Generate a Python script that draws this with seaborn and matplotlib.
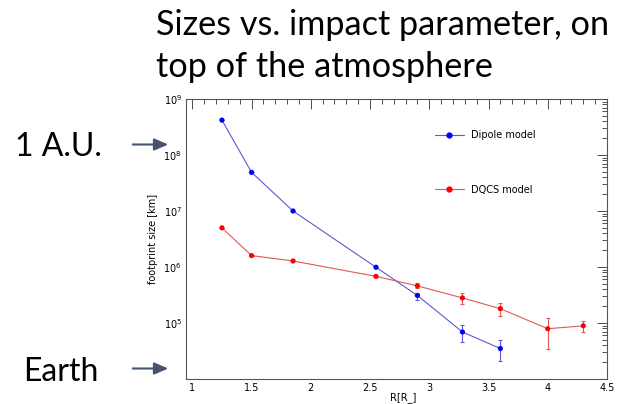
import numpy as np
import pandas as pd
import seaborn as sns
import matplotlib
matplotlib.use("Agg")
import matplotlib.pyplot as plt
from matplotlib.ticker import LogLocator, MultipleLocator, NullFormatter, FuncFormatter
from matplotlib.lines import Line2D

# ---- data ----
dipole_r = [1.25, 1.5, 1.85, 2.55, 2.9, 3.28, 3.6]
dipole_size = [4.2e8, 4.9e7, 1.0e7, 9.9e5, 3.1e5, 6.9e4, 3.5e4]
dipole_lo = [4.2e8, 4.9e7, 1.0e7, 9.9e5, 2.6e5, 4.5e4, 2.1e4]
dipole_hi = [4.2e8, 4.9e7, 1.0e7, 9.9e5, 3.5e5, 9.1e4, 4.9e4]

dqcs_r = [1.25, 1.5, 1.85, 2.55, 2.9, 3.28, 3.6, 4.0, 4.3]
dqcs_size = [5.0e6, 1.6e6, 1.28e6, 6.8e5, 4.6e5, 2.8e5, 1.8e5, 7.9e4, 8.9e4]
dqcs_lo = [5.0e6, 1.6e6, 1.28e6, 6.8e5, 4.2e5, 2.2e5, 1.35e5, 3.5e4, 7.0e4]
dqcs_hi = [5.0e6, 1.6e6, 1.28e6, 6.8e5, 5.1e5, 3.4e5, 2.3e5, 1.25e5, 1.07e5]

series_labels = ["Dipole model", "DQCS model"]
x_ticks = [1, 1.5, 2, 2.5, 3, 3.5, 4, 4.5]

sns.set_style("white")
plt.rcParams['font.family'] = ['DejaVu Sans']
plt.rcParams['text.color'] = 'black'
plt.rcParams['axes.labelcolor'] = 'black'
plt.rcParams['xtick.color'] = 'black'
plt.rcParams['ytick.color'] = 'black'

fig = plt.figure(figsize=(6.17, 4.04), dpi=100)
ax = fig.add_axes([0.3015, 0.0619, 0.6823, 0.6931])

df_d = pd.DataFrame({"r": dipole_r, "size": dipole_size})
df_q = pd.DataFrame({"r": dqcs_r, "size": dqcs_size})

line_blue, mark_blue = "#5a5ad8", "#0000ff"
line_red, mark_red = "#e05858", "#ff0000"

sns.lineplot(data=df_d, x="r", y="size", ax=ax, color=line_blue, lw=0.8, sort=False)
sns.lineplot(data=df_q, x="r", y="size", ax=ax, color=line_red, lw=0.8, sort=False)

ax.errorbar(dipole_r, dipole_size,
            yerr=[np.array(dipole_size) - np.array(dipole_lo), np.array(dipole_hi) - np.array(dipole_size)],
            fmt="none", ecolor=line_blue, elinewidth=0.8, capsize=1.5, capthick=0.8)
ax.errorbar(dqcs_r, dqcs_size,
            yerr=[np.array(dqcs_size) - np.array(dqcs_lo), np.array(dqcs_hi) - np.array(dqcs_size)],
            fmt="none", ecolor=line_red, elinewidth=0.8, capsize=1.5, capthick=0.8)

sns.scatterplot(data=df_d, x="r", y="size", ax=ax, color=mark_blue, s=14, edgecolor="none", zorder=5)
sns.scatterplot(data=df_q, x="r", y="size", ax=ax, color=mark_red, s=14, edgecolor="none", zorder=5)

ax.set_yscale("log")
ax.set_ylim(1e4, 1e9)
ax.set_xlim(0.947, 4.5)
ax.set_xticks(x_ticks)
ax.set_xticklabels([f"{t:g}" for t in x_ticks])
ax.xaxis.set_minor_locator(MultipleLocator(0.1))
ax.yaxis.set_major_locator(LogLocator(base=10, numticks=10))
ax.yaxis.set_major_formatter(FuncFormatter(
    lambda v, p: "" if v < 1.5e4 else r"$10^{%d}$" % int(round(np.log10(v)))))
ax.yaxis.set_minor_locator(LogLocator(base=10, subs=np.arange(2, 10), numticks=20))
ax.yaxis.set_minor_formatter(NullFormatter())
ax.tick_params(which="both", direction="in", top=True, right=True, labelsize=7, pad=3, color="#333333")
ax.tick_params(which="major", length=7, width=0.6)
ax.tick_params(which="minor", length=3.5, width=0.6)
for s in ax.spines.values():
    s.set_linewidth(0.8)
    s.set_color("#555555")

ax.set_xlabel("R[R_]", fontsize=7)
ax.xaxis.set_label_coords(0.515, -0.048)
ax.set_ylabel("footprint size [km]", fontsize=7, labelpad=4)

handles = [Line2D([0], [0], color=line_blue, lw=0.8, marker="o", markersize=3.5,
                  markerfacecolor=mark_blue, markeredgecolor=mark_blue),
           Line2D([0], [0], color=line_red, lw=0.8, marker="o", markersize=3.5,
                  markerfacecolor=mark_red, markeredgecolor=mark_red)]
ax.legend(handles, series_labels, loc="upper left", bbox_to_anchor=(0.57, 0.92),
          frameon=False, fontsize=7, labelspacing=4.6, handlelength=3.0, handletextpad=0.7)

# ---- outer annotations ----
fig.text(156 / 617, 1 - 35 / 404, "Sizes vs. impact parameter, on", fontsize=24.7,
         family="Lato", va="baseline", ha="left", color="black")
fig.text(156 / 617, 1 - 77 / 404, "top of the atmosphere", fontsize=24.7,
         family="Lato", va="baseline", ha="left", color="black")
fig.text(15 / 617, 1 - 156 / 404, "1 A.U.", fontsize=23, family="Lato", va="baseline", ha="left", color="black")
fig.text(23 / 617, 1 - 381 / 404, "Earth", fontsize=23, family="Lato", va="baseline", ha="left", color="black")
arrow_kw = dict(arrowstyle="-|>,head_length=0.7,head_width=0.3", color="#44546a", lw=1.5)
fig.add_artist(matplotlib.patches.FancyArrowPatch((130 / 617, 1 - 144.5 / 404), (171 / 617, 1 - 144.5 / 404),
                                                  transform=fig.transFigure, mutation_scale=12, **arrow_kw))
fig.add_artist(matplotlib.patches.FancyArrowPatch((130 / 617, 1 - 368.5 / 404), (171 / 617, 1 - 368.5 / 404),
                                                  transform=fig.transFigure, mutation_scale=12, **arrow_kw))

fig.savefig("out.png", dpi=100)
